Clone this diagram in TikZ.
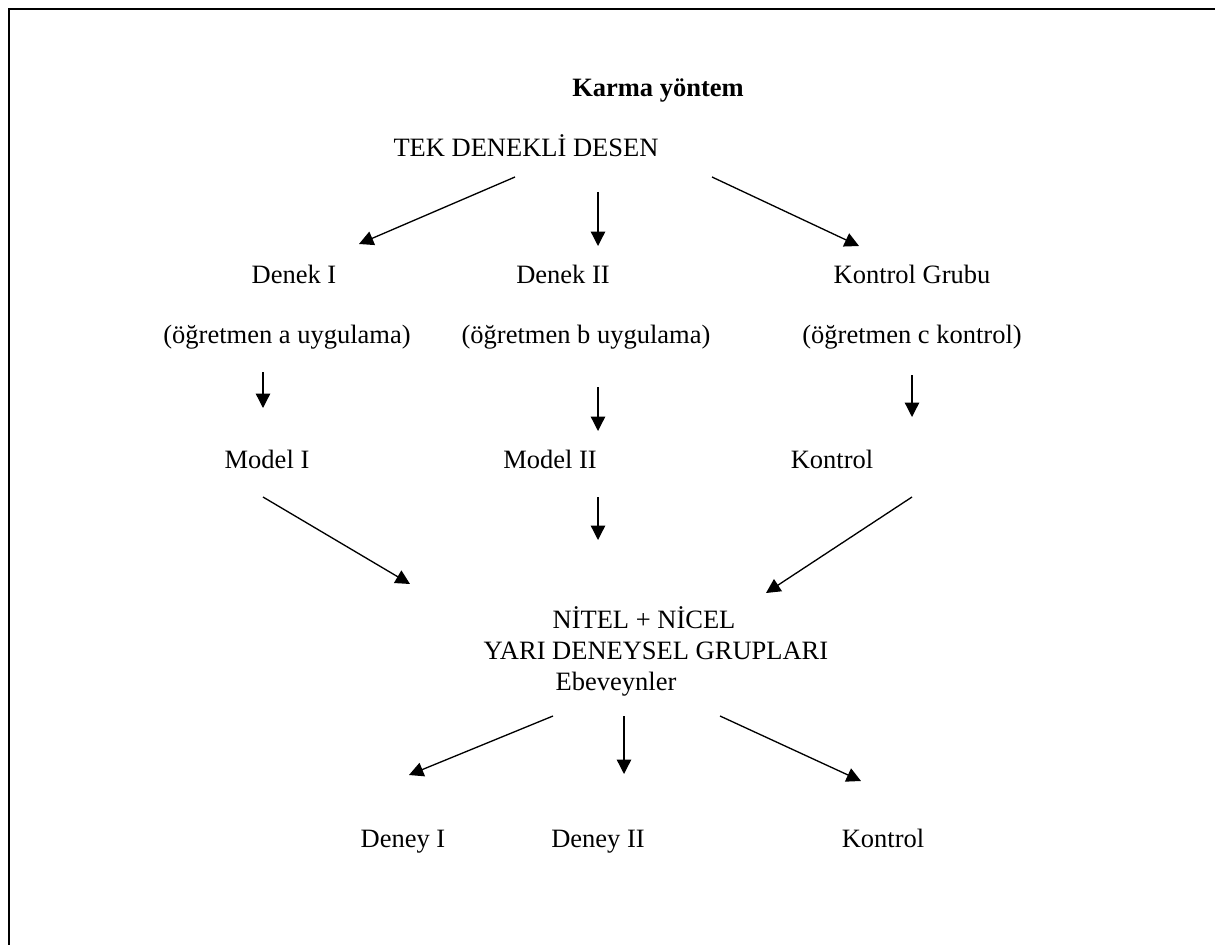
\documentclass[tikz,border=0pt]{standalone}
\usepackage{fontspec}
\setmainfont{Liberation Serif}
\usetikzlibrary{arrows.meta}
\begin{document}
\begin{tikzpicture}[x=0.4528pt,y=-0.4528pt,
  lbl/.style={anchor=base,inner sep=0pt,font=\fontsize{12}{14}\selectfont},
  arr/.style={line width=0.6pt,-{Triangle[length=6.5pt,width=6.5pt]}},
  frame/.style={line width=1.1pt}]
\useasboundingbox (0,0) rectangle (1215,945);
\draw[frame] (9,945) -- (9,9) -- (1215,9);
% text nodes
\node[lbl,font=\fontsize{12}{14}\selectfont\bfseries] (karma) at (658,97) {Karma yöntem};
\node[lbl] (tek) at (526,157) {TEK DENEKLİ DESEN};
\node[lbl] (d1) at (294,283) {Denek I};
\node[lbl] (d2) at (563,283) {Denek II};
\node[lbl] (kg) at (912,283) {Kontrol Grubu};
\node[lbl] (oa) at (287,343) {(öğretmen a uygulama)};
\node[lbl] (ob) at (586,343) {(öğretmen b uygulama)};
\node[lbl] (oc) at (912,343) {(öğretmen c kontrol)};
\node[lbl] (m1) at (267,468) {Model I};
\node[lbl] (m2) at (550,468) {Model II};
\node[lbl] (mk) at (832,468) {Kontrol};
\node[lbl] (nitel) at (644,628) {NİTEL + NİCEL};
\node[lbl] (yari) at (656,659) {YARI DENEYSEL GRUPLARI};
\node[lbl] (ebe) at (616,690) {Ebeveynler};
\node[lbl] (de1) at (403,847) {Deney I};
\node[lbl] (de2) at (598,847) {Deney II};
\node[lbl] (dek) at (883,847) {Kontrol};
% arrow end points
\coordinate (a1s) at (515,177); \coordinate (a1e) at (359,244);
\coordinate (a2s) at (598,192); \coordinate (a2e) at (598,246);
\coordinate (a3s) at (712,177); \coordinate (a3e) at (859,246);
\coordinate (b1s) at (263,372); \coordinate (b1e) at (263,408);
\coordinate (b2s) at (598,387); \coordinate (b2e) at (598,431);
\coordinate (b3s) at (912,375); \coordinate (b3e) at (912,417);
\coordinate (c1s) at (263,497); \coordinate (c1e) at (410,584);
\coordinate (c2s) at (598,497); \coordinate (c2e) at (598,540);
\coordinate (c3s) at (912,497); \coordinate (c3e) at (766,593);
\coordinate (e1s) at (553,716); \coordinate (e1e) at (409,775);
\coordinate (e2s) at (624,716); \coordinate (e2e) at (624,774);
\coordinate (e3s) at (720,716); \coordinate (e3e) at (861,781);
\draw[arr] (a1s) -- (a1e);
\draw[arr] (a2s) -- (a2e);
\draw[arr] (a3s) -- (a3e);
\draw[arr] (b1s) -- (b1e);
\draw[arr] (b2s) -- (b2e);
\draw[arr] (b3s) -- (b3e);
\draw[arr] (c1s) -- (c1e);
\draw[arr] (c2s) -- (c2e);
\draw[arr] (c3s) -- (c3e);
\draw[arr] (e1s) -- (e1e);
\draw[arr] (e2s) -- (e2e);
\draw[arr] (e3s) -- (e3e);
\end{tikzpicture}
\end{document}
